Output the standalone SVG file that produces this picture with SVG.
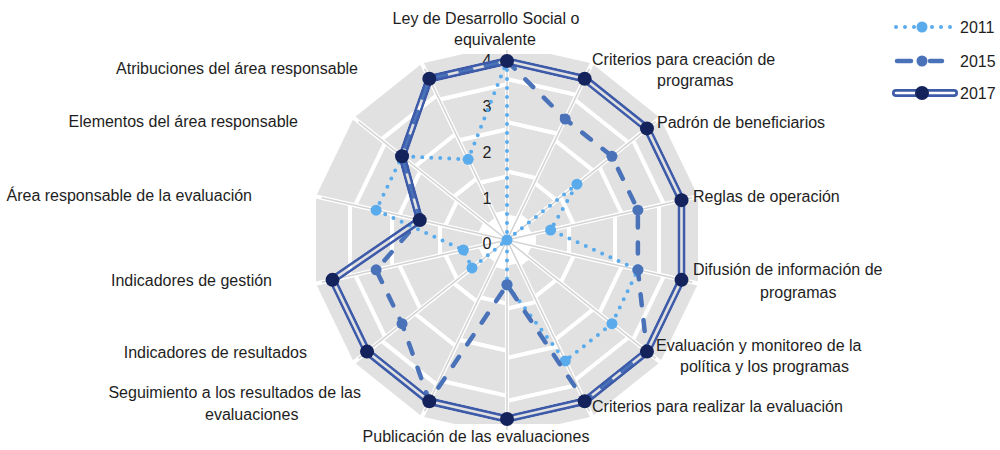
<svg xmlns="http://www.w3.org/2000/svg" xmlns:xlink="http://www.w3.org/1999/xlink" width="1000" height="450" viewBox="0 0 1000 450">
<style>
.bg{fill:#e1e1e1;stroke:#fff;stroke-width:4;stroke-linejoin:miter}
.spoke{stroke:#d3d3d3;stroke-width:1.5;fill:none}
.lbl{font-family:"Liberation Sans",Arial,sans-serif;font-size:16px;fill:#1e1e1e}
.tick{font-family:"Liberation Sans",Arial,sans-serif;font-size:16px;fill:#1e1e1e;text-anchor:middle}
.mid{text-anchor:middle}
.end{text-anchor:end}
.s11{fill:none;stroke:#5aabec;stroke-width:4;stroke-dasharray:0 9;stroke-linecap:round;stroke-linejoin:round}
.s15{fill:none;stroke:#4a72b8;stroke-width:4.5;stroke-dasharray:11 15;stroke-linecap:round;stroke-linejoin:round}
.s17{fill:none;stroke:#3d5ba9;stroke-width:8;stroke-linejoin:round}
.m11{fill:#5aabec}
.m15{fill:#4a72b8}
.m17{fill:#14235b}
</style>
<defs>
<g id="secA">
<polygon points="-5.25,-23 5.25,-23 15.29,-67 -15.29,-67"/>
<polygon points="-15.29,-67 15.29,-67 26.25,-115 -26.25,-115"/>
<polygon points="-26.25,-115 26.25,-115 35.83,-157 -35.83,-157"/>
<polygon points="-35.83,-157 35.83,-157 44.05,-193 -44.05,-193"/>
</g>
<g id="secB">
<polygon points="-6.16,-27 6.16,-27 14.15,-62 -14.15,-62"/>
<polygon points="-14.15,-62 14.15,-62 24.65,-108 -24.65,-108"/>
<polygon points="-24.65,-108 24.65,-108 34.69,-152 -34.69,-152"/>
<polygon points="-34.69,-152 34.69,-152 44.05,-193 -44.05,-193"/>
</g>
<clipPath id="bgClip"><rect x="0" y="54" width="1000" height="370"/></clipPath>
<polygon id="p2017" points="507,61 584.66,78.73 646.95,128.4 681.51,200.17 681.51,279.83 646.95,351.6 584.66,401.27 507,419 429.34,401.27 367.05,351.6 332.49,279.83 419.74,220.08 402.04,156.3 429.34,78.73"/>
<mask id="dbl" maskUnits="userSpaceOnUse" x="0" y="0" width="1000" height="450">
<use xlink:href="#p2017" href="#p2017" fill="none" stroke="#fff" stroke-width="8" stroke-linejoin="round"/>
<use xlink:href="#p2017" href="#p2017" fill="none" stroke="#000" stroke-width="2.6" stroke-linejoin="round"/>
</mask>
</defs>

<g id="background" class="bg" clip-path="url(#bgClip)">
<g transform="translate(507,240)">
<use href="#secA" xlink:href="#secA" transform="rotate(12.857)"/>
<use href="#secB" xlink:href="#secB" transform="rotate(38.571)"/>
<use href="#secA" xlink:href="#secA" transform="rotate(64.286)"/>
<use href="#secB" xlink:href="#secB" transform="rotate(90)"/>
<use href="#secA" xlink:href="#secA" transform="rotate(115.714)"/>
<use href="#secB" xlink:href="#secB" transform="rotate(141.429)"/>
<use href="#secA" xlink:href="#secA" transform="rotate(167.143)"/>
<use href="#secB" xlink:href="#secB" transform="rotate(192.857)"/>
<use href="#secA" xlink:href="#secA" transform="rotate(218.571)"/>
<use href="#secB" xlink:href="#secB" transform="rotate(244.286)"/>
<use href="#secA" xlink:href="#secA" transform="rotate(270)"/>
<use href="#secB" xlink:href="#secB" transform="rotate(295.714)"/>
<use href="#secA" xlink:href="#secA" transform="rotate(321.429)"/>
<use href="#secB" xlink:href="#secB" transform="rotate(347.143)"/>
</g>
</g>

<g id="spokes">
<path class="spoke" d="M507 240L507 50M507 240L589.44 68.82M507 240L655.55 121.54M507 240L692.24 197.72M507 240L692.24 282.28M507 240L655.55 358.46M507 240L589.44 411.18M507 240L507 430M507 240L424.56 411.18M507 240L358.45 358.46M507 240L321.76 282.28M507 240L321.76 197.72M507 240L358.45 121.54M507 240L424.56 68.82"/>
</g>

<g id="ticks">
<text class="tick" x="487" y="249">0</text>
<text class="tick" x="487" y="203.5">1</text>
<text class="tick" x="487" y="158">2</text>
<text class="tick" x="487" y="112">3</text>
<text class="tick" x="487" y="66">4</text>
</g>

<g id="connectors">
<polygon id="line2011" class="s11" points="507,61 507,240 576.97,184.2 550.63,230.04 637.88,269.87 611.96,323.7 565.25,360.95 507,284.75 507,240 472.01,267.9 463.37,249.96 376.12,210.13 402.04,156.3 468.17,159.36"/>
<g id="markers2011" class="m11">
<circle cx="507" cy="61" r="5.5"/><circle cx="507" cy="240" r="5.5"/><circle cx="576.97" cy="184.2" r="5.5"/><circle cx="550.63" cy="230.04" r="5.5"/><circle cx="637.88" cy="269.87" r="5.5"/><circle cx="611.96" cy="323.7" r="5.5"/><circle cx="565.25" cy="360.95" r="5.5"/><circle cx="507" cy="284.75" r="5.5"/><circle cx="472.01" cy="267.9" r="5.5"/><circle cx="463.37" cy="249.96" r="5.5"/><circle cx="376.12" cy="210.13" r="5.5"/><circle cx="402.04" cy="156.3" r="5.5"/><circle cx="468.17" cy="159.36" r="5.5"/>
</g>
<polygon id="line2015" class="s15" points="507,61 565.25,119.05 611.96,156.3 637.88,210.13 637.88,269.87 646.95,351.6 584.66,401.27 507,284.75 429.34,401.27 402.04,323.7 376.12,269.87 419.74,220.08 402.04,156.3 429.34,78.73"/>
<g id="markers2015" class="m15">
<circle cx="507" cy="61" r="5.5"/><circle cx="565.25" cy="119.05" r="5.5"/><circle cx="611.96" cy="156.3" r="5.5"/><circle cx="637.88" cy="210.13" r="5.5"/><circle cx="637.88" cy="269.87" r="5.5"/><circle cx="646.95" cy="351.6" r="5.5"/><circle cx="584.66" cy="401.27" r="5.5"/><circle cx="507" cy="284.75" r="5.5"/><circle cx="429.34" cy="401.27" r="5.5"/><circle cx="402.04" cy="323.7" r="5.5"/><circle cx="376.12" cy="269.87" r="5.5"/><circle cx="419.74" cy="220.08" r="5.5"/><circle cx="402.04" cy="156.3" r="5.5"/><circle cx="429.34" cy="78.73" r="5.5"/>
</g>
<use id="line2017" class="s17" href="#p2017" xlink:href="#p2017" mask="url(#dbl)"/>
<g id="markers2017" class="m17">
<circle cx="507" cy="61" r="7"/><circle cx="584.66" cy="78.73" r="7"/><circle cx="646.95" cy="128.4" r="7"/><circle cx="681.51" cy="200.17" r="7"/><circle cx="681.51" cy="279.83" r="7"/><circle cx="646.95" cy="351.6" r="7"/><circle cx="584.66" cy="401.27" r="7"/><circle cx="507" cy="419" r="7"/><circle cx="429.34" cy="401.27" r="7"/><circle cx="367.05" cy="351.6" r="7"/><circle cx="332.49" cy="279.83" r="7"/><circle cx="419.74" cy="220.08" r="7"/><circle cx="402.04" cy="156.3" r="7"/><circle cx="429.34" cy="78.73" r="7"/>
</g>
</g>

<g id="node-ley"><text class="lbl mid" x="486" y="24">Ley de Desarrollo Social o</text><text class="lbl" x="454" y="45">equivalente</text></g>
<g id="node-criterios-creacion"><text class="lbl" x="592" y="65">Criterios para creación de</text><text class="lbl" x="657" y="86">programas</text></g>
<g id="node-padron"><text class="lbl" x="657" y="128">Padrón de beneficiarios</text></g>
<g id="node-reglas"><text class="lbl" x="693" y="202">Reglas de operación</text></g>
<g id="node-difusion"><text class="lbl" x="693" y="275">Difusión de información de</text><text class="lbl" x="760" y="298">programas</text></g>
<g id="node-evaluacion"><text class="lbl" x="656" y="351">Evaluación y monitoreo de la</text><text class="lbl" x="680" y="372">política y los programas</text></g>
<g id="node-criterios-realizar"><text class="lbl" x="592" y="412">Criterios para realizar la evaluación</text></g>
<g id="node-publicacion"><text class="lbl mid" x="476" y="442">Publicación de las evaluaciones</text></g>
<g id="node-seguimiento"><text class="lbl end" x="361" y="398">Seguimiento a los resultados de las</text><text class="lbl" x="205" y="420">evaluaciones</text></g>
<g id="node-ind-resultados"><text class="lbl end" x="307" y="358">Indicadores de resultados</text></g>
<g id="node-ind-gestion"><text class="lbl end" x="272" y="286">Indicadores de gestión</text></g>
<g id="node-area"><text class="lbl end" x="252" y="201">Área responsable de la evaluación</text></g>
<g id="node-elementos"><text class="lbl end" x="298" y="127">Elementos del área responsable</text></g>
<g id="node-atribuciones"><text class="lbl end" x="358" y="74">Atribuciones del área responsable</text></g>

<g id="legend">
<line x1="896" y1="27" x2="952" y2="27" class="s11" stroke-dasharray="0 7.5"/>
<circle cx="922" cy="27" r="5.5" class="m11"/>
<text class="lbl" x="960" y="33">2011</text>
<line x1="897" y1="61" x2="911" y2="61" stroke="#4a72b8" stroke-width="4.5" stroke-linecap="round"/>
<line x1="930" y1="61" x2="942" y2="61" stroke="#4a72b8" stroke-width="4.5" stroke-linecap="round"/>
<circle cx="922" cy="61" r="5.5" class="m15"/>
<text class="lbl" x="960" y="67">2015</text>
<line x1="896" y1="93" x2="954" y2="93" stroke="#3d5ba9" stroke-width="8" stroke-linecap="round"/>
<line x1="896" y1="93" x2="954" y2="93" stroke="#fff" stroke-width="2.6" stroke-linecap="round"/>
<circle cx="922" cy="93" r="7" class="m17"/>
<text class="lbl" x="960" y="99">2017</text>
</g>
</svg>
